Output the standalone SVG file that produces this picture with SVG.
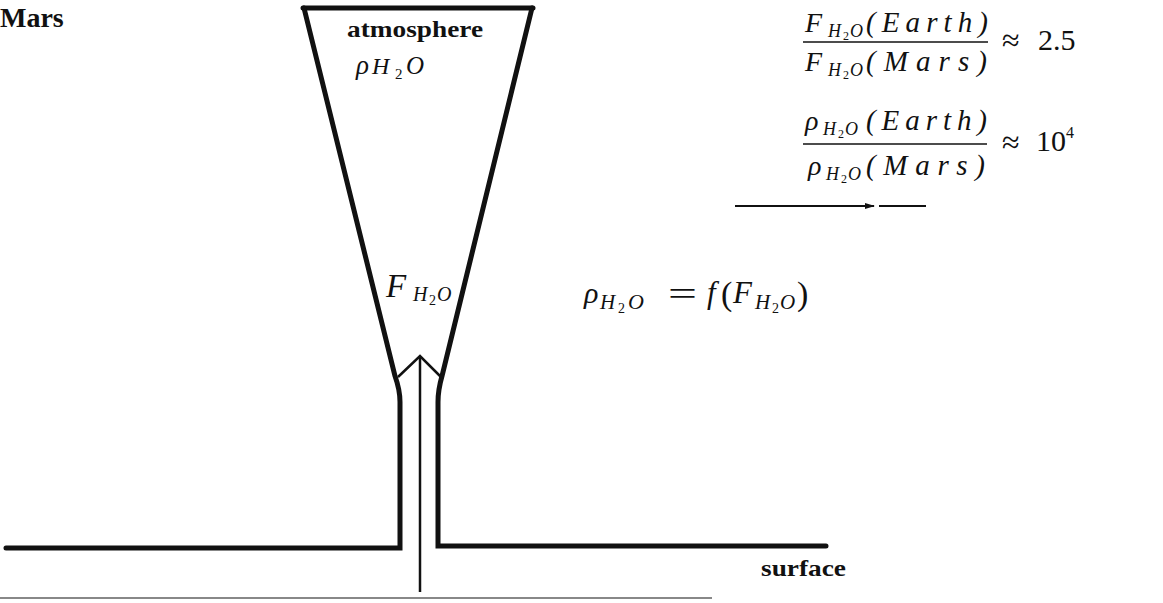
<svg xmlns="http://www.w3.org/2000/svg" width="1163" height="603" viewBox="0 0 1163 603">
<style>
.t{font-family:"Liberation Serif","DejaVu Serif",serif;fill:#111}
.b{font-weight:bold}
.i{font-style:italic}
.wall{fill:none;stroke:#111;stroke-width:5;stroke-linejoin:miter;stroke-linecap:round}
.thin{fill:none;stroke:#111;stroke-width:2.5}
.bar{stroke:#111;stroke-width:1.6}
</style>
<defs>
<marker id="ah" markerWidth="10" markerHeight="8" refX="9" refY="4" orient="auto" markerUnits="userSpaceOnUse">
<path d="M0,1 L10,4 L0,7 Z" fill="#111"/>
</marker>
</defs>
<rect width="1163" height="603" fill="#fff"/>

<g id="title">
<text class="t b" x="0" y="27" font-size="28">Mars</text>
</g>

<g id="funnel">
<path class="wall" d="M303 8 L533 8"/>
<path class="wall" d="M304 8 L395 376 Q400 390 400 402 L400 548 L6 548"/>
<path class="wall" d="M532 8 L442 376 Q438 390 438 402 L438 546 L826 546"/>
<text class="t b" x="347" y="37" font-size="24" textLength="136" lengthAdjust="spacingAndGlyphs">atmosphere</text>
<text class="t i" x="356" y="74" font-size="27">ρ</text>
<text class="t i" x="372" y="74" font-size="24">H</text>
<text class="t" x="395" y="79" font-size="15">2</text>
<text class="t i" x="406" y="74" font-size="25">O</text>
<text class="t i" x="386" y="297" font-size="33">F</text>
<text class="t i" x="413" y="301" font-size="20">H</text>
<text class="t" x="429" y="305" font-size="14">2</text>
<text class="t i" x="437" y="301" font-size="20">O</text>
</g>

<g id="connectors">
<path class="thin" d="M420 358 L420 592"/>
<path class="thin" stroke-width="3" d="M398 377 L420 356 L441 377"/>
<line x1="735" y1="206" x2="874" y2="206" stroke="#111" stroke-width="2" marker-end="url(#ah)"/>
<line x1="879" y1="206" x2="926" y2="206" stroke="#111" stroke-width="2"/>
<line x1="0" y1="598" x2="712" y2="598" stroke="#888" stroke-width="2"/>
</g>

<g id="surface-label">
<text class="t b" x="761" y="576" font-size="24" textLength="85" lengthAdjust="spacingAndGlyphs">surface</text>
</g>

<g id="relation">
<text class="t i" x="584" y="303" font-size="30">ρ</text>
<text class="t i" x="600" y="309" font-size="21">H</text>
<text class="t" x="618" y="313" font-size="14">2</text>
<text class="t i" x="628" y="309" font-size="22">O</text>
<text class="t" x="668" y="305" font-size="34" textLength="29" lengthAdjust="spacingAndGlyphs">=</text>
<text class="t i" x="707" y="303" font-size="31">f</text>
<text class="t" x="721" y="305" font-size="34">(</text>
<text class="t i" x="733" y="303" font-size="31">F</text>
<text class="t i" x="755" y="309" font-size="21">H</text>
<text class="t" x="772" y="313" font-size="14">2</text>
<text class="t i" x="780" y="309" font-size="21">O</text>
<text class="t" x="797" y="305" font-size="34">)</text>
</g>

<g id="ratio-flux">
<text class="t i" x="805" y="32" font-size="28">F</text>
<text class="t i" x="828" y="37" font-size="18">H</text>
<text class="t" x="843" y="40" font-size="12">2</text>
<text class="t i" x="850" y="37" font-size="18">O</text>
<text class="t i" x="866" y="32" font-size="29" textLength="122">(Earth)</text>
<line class="bar" x1="803" y1="42" x2="988" y2="42"/>
<text class="t i" x="805" y="71" font-size="28">F</text>
<text class="t i" x="828" y="76" font-size="18">H</text>
<text class="t" x="843" y="79" font-size="12">2</text>
<text class="t i" x="850" y="76" font-size="18">O</text>
<text class="t i" x="866" y="71" font-size="29" textLength="121">(Mars)</text>
<text class="t" x="1002" y="51" font-size="32">≈</text>
<text class="t" x="1038" y="50" font-size="30">2.5</text>
</g>

<g id="ratio-density">
<text class="t i" x="805" y="130" font-size="28">ρ</text>
<text class="t i" x="823" y="135" font-size="18">H</text>
<text class="t" x="838" y="138" font-size="12">2</text>
<text class="t i" x="845" y="135" font-size="18">O</text>
<text class="t i" x="866" y="130" font-size="29" textLength="121">(Earth)</text>
<line class="bar" x1="803" y1="144" x2="987" y2="144"/>
<text class="t i" x="808" y="175" font-size="28">ρ</text>
<text class="t i" x="826" y="180" font-size="18">H</text>
<text class="t" x="841" y="183" font-size="12">2</text>
<text class="t i" x="848" y="180" font-size="18">O</text>
<text class="t i" x="866" y="175" font-size="29" textLength="119">(Mars)</text>
<text class="t" x="1002" y="153" font-size="32">≈</text>
<text class="t" x="1036" y="151" font-size="30">10</text>
<text class="t" x="1066" y="138" font-size="16">4</text>
</g>
</svg>
